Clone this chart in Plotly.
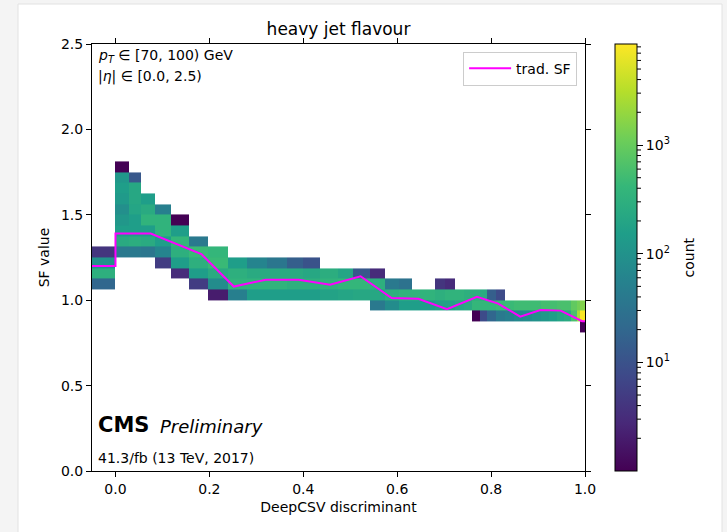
import plotly.graph_objects as go
import math

# ---------------- data ----------------
# DeepCSV discriminant bin edges (variable width)
x_edges = [-0.05, 0.0, 0.029, 0.0535, 0.0844, 0.1175, 0.156, 0.1965, 0.239, 0.280,
           0.322, 0.365, 0.399, 0.4355, 0.474, 0.506, 0.542, 0.574, 0.604, 0.632,
           0.656, 0.681, 0.702, 0.724, 0.743, 0.760, 0.777, 0.792, 0.811, 0.830,
           0.8495, 0.869, 0.888, 0.907, 0.924, 0.941, 0.956, 0.971, 0.982, 0.990, 1.0]

# SF value bin edges
y_edges = [0.8125, 0.875, 0.9375, 1.0, 1.0625, 1.125, 1.1875, 1.25, 1.3125, 1.375,
           1.4375, 1.5, 1.5625, 1.625, 1.6875, 1.75, 1.8125]

# for every discriminant bin: index of the lowest filled SF bin, and counts upward
col_start = [4, 7, 7, 7, 6, 5, 4, 3, 3, 3,
             3, 3, 3, 3, 3, 3, 2, 2, 2, 2,
             2, 2, 2, 2, 2, 1, 1, 1, 1, 1,
             1, 1, 1, 1, 1, 1, 1, 1, 1, 0]
col_counts = [
    [20, 300, 100, 4],
    [40, 250, 150, 120, 90, 130, 150, 120, 1],
    [40, 280, 150, 150, 200, 220, 220, 12],
    [35, 250, 150, 350, 250, 150],
    [5, 60, 150, 350, 350, 50],
    [3, 150, 300, 400, 150, 1],
    [5, 150, 300, 450, 40],
    [2, 80, 250, 450, 400],
    [50, 350, 300, 150],
    [150, 350, 250, 60],
    [150, 350, 250, 35],
    [150, 300, 250, 15],
    [150, 300, 220, 10],
    [180, 350, 280],
    [200, 400, 200],
    [220, 400, 12],
    [40, 220, 300, 3],
    [80, 300, 40],
    [150, 350, 30],
    [150, 350],
    [150, 350],
    [180, 300, 4],
    [180, 350, 3],
    [220, 350],
    [250, 300],
    [1, 400, 300],
    [8, 400, 250],
    [20, 400, 15],
    [40, 450, 8],
    [50, 450],
    [70, 500],
    [80, 500],
    [100, 500],
    [120, 550],
    [150, 550],
    [200, 600],
    [250, 600],
    [600, 900],
    [2500, 1200],
    [1, 8000, 1500],
]

# traditional scale factor curve
sf_x = [-0.05, 0.0, 0.0, 0.075, 0.183, 0.252, 0.32, 0.39, 0.457, 0.522, 0.588,
        0.645, 0.706, 0.77, 0.815, 0.862, 0.905, 0.948, 0.994, 1.0]
sf_y = [1.20, 1.20, 1.39, 1.39, 1.27, 1.08, 1.12, 1.12, 1.09, 1.14, 1.013,
        1.008, 0.948, 1.02, 0.98, 0.904, 0.942, 0.939, 0.877, 0.877]

cbar_tickvals = [1, 2, 3]
cbar_ticktext = ['10<sup>1</sup>', '10<sup>2</sup>', '10<sup>3</sup>']
count_max = 8500

# ---------------- build matrix ----------------
n_rows = len(y_edges) - 1
n_cols = len(x_edges) - 1
z = [[None] * n_cols for _ in range(n_rows)]
for c in range(n_cols):
    for k, v in enumerate(col_counts[c]):
        z[col_start[c] + k][c] = math.log10(v)

FONT = 'DejaVu Sans'
W, H = 727, 532
ML, MR, MT, MB = 92, 142, 44, 61
PW = W - ML - MR
PH = H - MT - MB

def px_x(px):
    return (px - ML) / PW

def px_y(py):
    return (H - MB - py) / PH

zmin, zmax = 0.0, math.log10(count_max)
cb_left_px = 615
cb_thick = 22

fig = go.Figure()
fig.add_trace(go.Heatmap(
    x=x_edges, y=y_edges, z=z,
    colorscale='Viridis', zmin=zmin, zmax=zmax,
    hoverinfo='skip', showlegend=False,
    colorbar=dict(
        x=px_x(cb_left_px), xanchor='left', xpad=0, y=0.5, yanchor='middle',
        len=1, lenmode='fraction', ypad=0,
        thickness=cb_thick, thicknessmode='pixels',
        outlinewidth=1, outlinecolor='black',
        tickmode='array', tickvals=cbar_tickvals, ticktext=cbar_ticktext,
        ticks='outside', ticklen=6, tickwidth=1, tickcolor='black',
        tickfont=dict(family=FONT, size=14, color='black'),
    ),
))
fig.add_trace(go.Scatter(
    x=sf_x, y=sf_y, mode='lines', name='trad. SF',
    line=dict(color='#ff00ff', width=2), hoverinfo='skip',
))

# page card (light grey frame around the white figure) and colour-bar minor ticks
shapes = [dict(type='rect', xref='paper', yref='paper', layer='below',
               x0=px_x(18), x1=px_x(722), y0=px_y(540), y1=px_y(4),
               fillcolor='white', line=dict(color='#e2e2e2', width=1))]
cb_right = px_x(cb_left_px + cb_thick)
for d in range(0, 4):
    for k in range(2, 10):
        v = math.log10(k * 10 ** d)
        if zmin < v < zmax:
            yp = (v - zmin) / (zmax - zmin)
            shapes.append(dict(type='line', xref='paper', yref='paper',
                               x0=cb_right, x1=cb_right + 4 / PW, y0=yp, y1=yp,
                               line=dict(color='black', width=1)))

axis_common = dict(
    showline=True, linecolor='black', linewidth=1, mirror='ticks',
    ticks='outside', ticklen=5, tickwidth=1, tickcolor='black',
    showgrid=False, zeroline=False,
    tickfont=dict(family=FONT, size=14, color='black'),
)

fig.update_layout(
    width=W, height=H,
    margin=dict(l=ML, r=MR, t=MT, b=MB, autoexpand=False),
    paper_bgcolor='#f4f4f4', plot_bgcolor='white',
    font=dict(family=FONT, size=14, color='black'),
    title=dict(text='heavy jet flavour', xref='paper', x=0.5, xanchor='center',
               yref='container', y=1 - 29 / H, yanchor='middle',
               font=dict(family=FONT, size=17, color='black')),
    xaxis=dict(range=[-0.05, 1.0], tick0=0, dtick=0.2, tickformat='.1f',
               title=dict(text='DeepCSV discriminant', standoff=6,
                          font=dict(family=FONT, size=14, color='black')),
               **axis_common),
    yaxis=dict(range=[0, 2.5], tick0=0, dtick=0.5, tickformat='.1f',
               title=dict(text='SF value', standoff=8,
                          font=dict(family=FONT, size=14, color='black')),
               **axis_common),
    showlegend=True,
    legend=dict(x=0.984, xanchor='right', y=0.982, yanchor='top',
                itemwidth=42,
                bgcolor='rgba(255,255,255,0.8)', bordercolor='#cccccc', borderwidth=1,
                font=dict(family=FONT, size=14, color='black')),
    shapes=shapes,
    annotations=[
        dict(text='<i>p</i><sub><i>T</i></sub> ∈ [70, 100) GeV', xref='paper', yref='paper',
             x=0.009, y=0.997, xanchor='left', yanchor='top', showarrow=False,
             font=dict(family=FONT, size=14, color='black')),
        dict(text='|<i>η</i>| ∈ [0.0, 2.5)', xref='paper', yref='paper',
             x=0.009, y=0.948, xanchor='left', yanchor='top', showarrow=False,
             font=dict(family=FONT, size=14, color='black')),
        dict(text='<b>CMS</b>', xref='paper', yref='paper',
             x=0.009, y=px_y(425), xanchor='left', yanchor='middle', showarrow=False,
             font=dict(family=FONT, size=21, color='black')),
        dict(text='<i>Preliminary</i>', xref='paper', yref='paper',
             x=px_x(158), y=px_y(426), xanchor='left', yanchor='middle', showarrow=False,
             font=dict(family=FONT, size=18, color='black')),
        dict(text='41.3/fb (13 TeV, 2017)', xref='paper', yref='paper',
             x=0.009, y=px_y(458), xanchor='left', yanchor='middle', showarrow=False,
             font=dict(family=FONT, size=14, color='black')),
        dict(text='count', xref='paper', yref='paper',
             x=px_x(688), y=0.5, xanchor='center', yanchor='middle', textangle=-90,
             showarrow=False, font=dict(family=FONT, size=14, color='black')),
    ],
)

fig.write_html('out.html', config={'displayModeBar': False},
               post_script="document.body.style.margin='0';document.body.style.overflow='hidden';")
